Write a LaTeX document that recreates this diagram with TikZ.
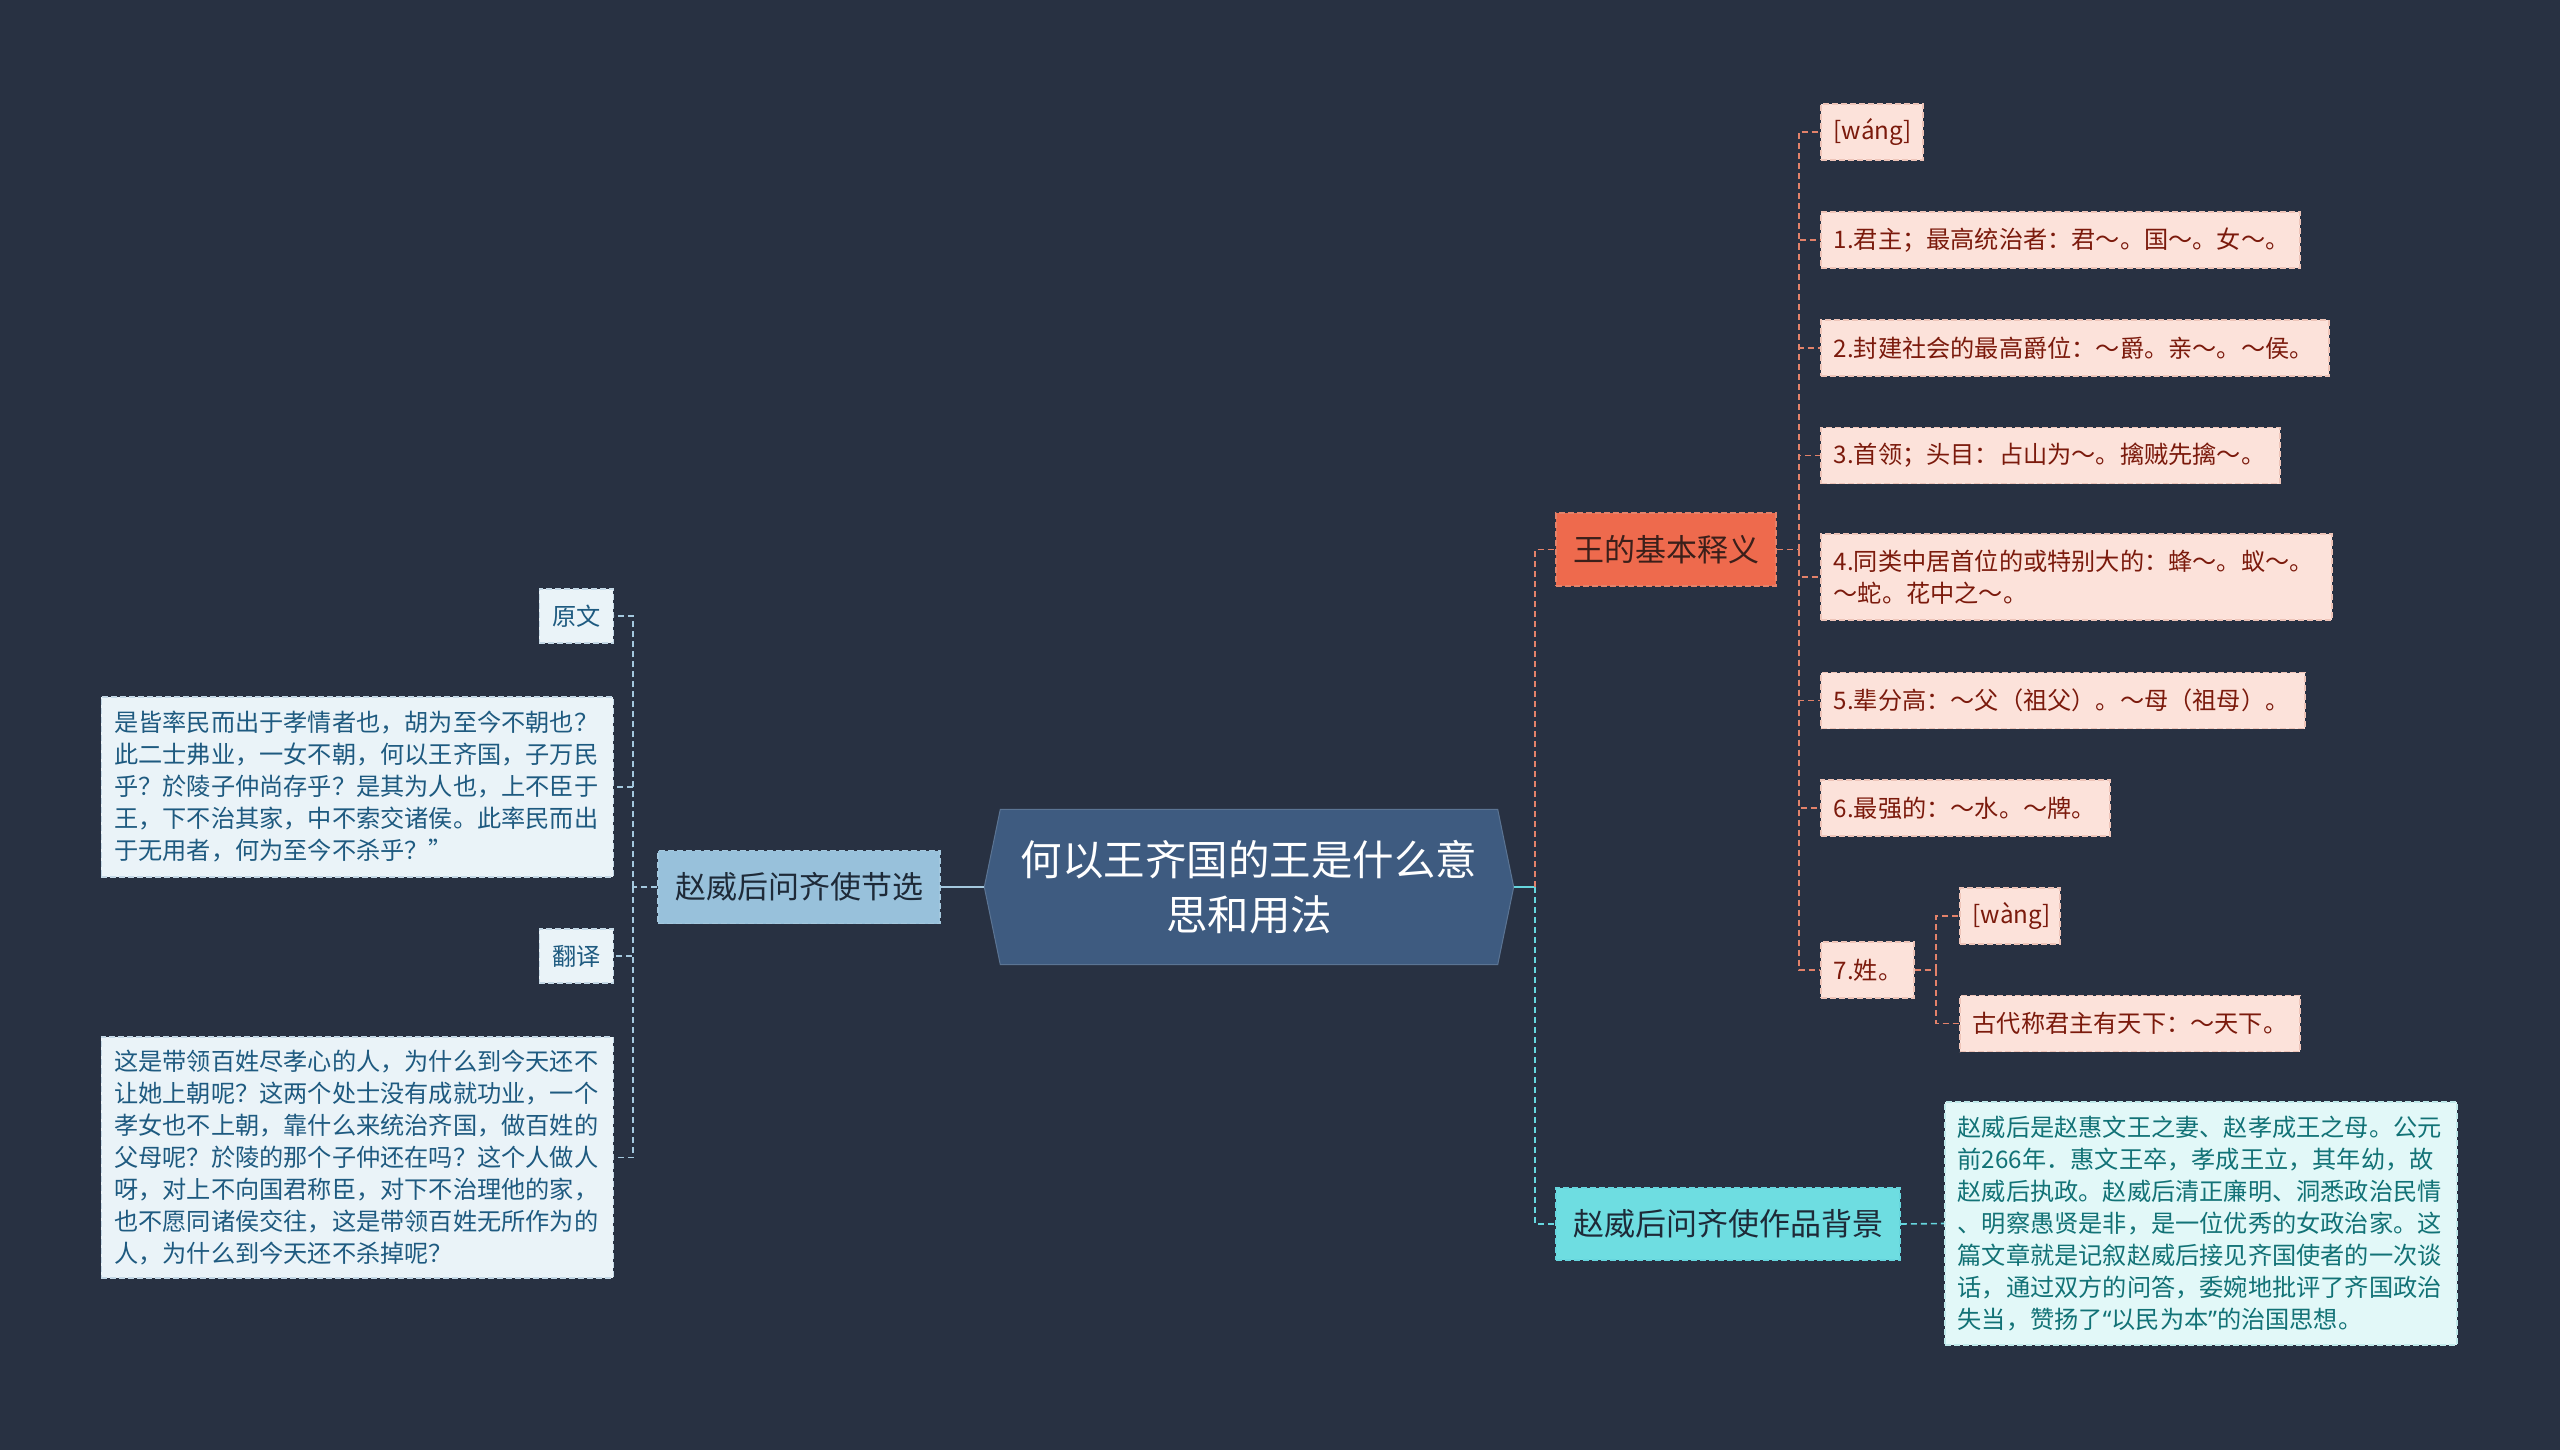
\documentclass[tikz,border=0pt]{standalone}
\usepackage{fontspec}
\setmainfont{Noto Sans CJK SC}
\newfontfamily\latf{Noto Sans}
\usetikzlibrary{backgrounds}
\definecolor{bgc}{HTML}{283142}
\definecolor{rootfill}{HTML}{3E5B80}
\definecolor{jxfill}{HTML}{98C1DB}
\definecolor{darktext}{HTML}{1E2A38}
\definecolor{lbfill}{HTML}{EAF3F8}
\definecolor{lbtext}{HTML}{1E5A80}
\definecolor{lbline}{HTML}{C4D8E6}
\definecolor{jbfill}{HTML}{EE6A4D}
\definecolor{jbtext}{HTML}{3B1F1A}
\definecolor{pkfill}{HTML}{FCE2DA}
\definecolor{pktext}{HTML}{7B1A0C}
\definecolor{pkline}{HTML}{EEC4B8}
\definecolor{bjfill}{HTML}{6EDDE1}
\definecolor{lcfill}{HTML}{E2F8F8}
\definecolor{lctext}{HTML}{127276}
\definecolor{lcline}{HTML}{BFE9EA}
\definecolor{orl}{HTML}{E3826A}
\definecolor{cyl}{HTML}{66D6DE}
\definecolor{bll}{HTML}{A4C8DE}
\tikzset{
  boxbase/.style={rectangle, line width=1.5pt, dash pattern=on 6pt off 3pt, inner xsep=13pt, inner ysep=0pt, align=left},
  smallfont/.style={font=\fontsize{24.2pt}{32pt}\selectfont},
  branchfont/.style={font=\fontsize{31pt}{38pt}\selectfont},
  pinkbox/.style={boxbase, smallfont, fill=pkfill, draw=pkline, text=pktext, anchor=west, minimum height=56pt},
  lbbox/.style={boxbase, smallfont, fill=lbfill, draw=lbline, text=lbtext, anchor=east},
  lcbox/.style={boxbase, smallfont, fill=lcfill, draw=lcline, text=lctext, anchor=west},
  branchbox/.style={boxbase, branchfont, align=center, text=darktext},
  orline/.style={draw=orl, line width=1.6pt, dash pattern=on 6pt off 4pt},
  cyline/.style={draw=cyl, line width=1.6pt, dash pattern=on 6pt off 4pt},
  blline/.style={draw=bll, line width=1.6pt, dash pattern=on 6pt off 4pt},
}
\begin{document}
\begin{tikzpicture}[x=1pt,y=-1pt]
\useasboundingbox (0,0) rectangle (2560,1450);

% root
\node[font=\fontsize{41.5pt}{55pt}\selectfont, text=white, align=center, minimum width=529pt, minimum height=155pt, inner sep=0pt] (root) at (1249,887) {何以王齐国的王是什么意\\思和用法};

% left branch
\node[branchbox, fill=jxfill, draw=bll, minimum width=282pt, minimum height=73pt] (jx) at (799,887) {赵威后问齐使节选};
\node[lbbox, text width=48pt, minimum height=54pt] (yw) at (614,616) {原文};
\node[lbbox, text width=486pt, minimum height=180pt] (ywt) at (614,787) {是皆率民而出于孝情者也，胡为至今不朝也？\\此二士弗业，一女不朝，何以王齐国，子万民\\乎？於陵子仲尚存乎？是其为人也，上不臣于\\王，下不治其家，中不索交诸侯。此率民而出\\于无用者，何为至今不杀乎？”};
\node[lbbox, text width=48pt, minimum height=54pt] (fy) at (614,956) {翻译};
\node[lbbox, text width=486pt, minimum height=241pt] (fyt) at (614,1157.5) {这是带领百姓尽孝心的人，为什么到今天还不\\让她上朝呢？这两个处士没有成就功业，一个\\孝女也不上朝，靠什么来统治齐国，做百姓的\\父母呢？於陵的那个子仲还在吗？这个人做人\\呀，对上不向国君称臣，对下不治理他的家，\\也不愿同诸侯交往，这是带领百姓无所作为的\\人，为什么到今天还不杀掉呢？};

% right upper branch
\node[branchbox, fill=jbfill, draw=orl, text=jbtext, minimum width=220pt, minimum height=73pt] (jb) at (1666,549.5) {王的基本释义};
\node[pinkbox, text width=76pt] (c0) at (1820,132) {[wáng]};
\node[pinkbox, text width=453pt] (c1) at (1820,240) {1.君主；最高统治者：君～。国～。女～。};
\node[pinkbox, text width=482pt] (c2) at (1820,348) {2.封建社会的最高爵位：～爵。亲～。～侯。};
\node[pinkbox, text width=433pt] (c3) at (1820,455.5) {3.首领；头目：占山为～。擒贼先擒～。};
\node[pinkbox, text width=485pt, minimum height=86pt] (c4) at (1820,577) {4.同类中居首位的或特别大的：蜂～。蚁～。\\～蛇。花中之～。};
\node[pinkbox, text width=458pt] (c5) at (1820,700.5) {5.辈分高：～父（祖父）。～母（祖母）。};
\node[pinkbox, text width=263pt] (c6) at (1820,808) {6.最强的：～水。～牌。};
\node[pinkbox, text width=67pt] (c7) at (1820,970) {7.姓。};
\node[pinkbox, text width=74pt] (c7a) at (1959,916) {[wàng]};
\node[pinkbox, text width=314pt] (c7b) at (1959,1023.5) {古代称君主有天下：～天下。};

% right lower branch
\node[branchbox, fill=bjfill, draw=cyl, minimum width=344pt, minimum height=72pt] (bj) at (1728,1224) {赵威后问齐使作品背景};
\node[lcbox, text width=486pt, minimum height=243pt] (bjt) at (1944,1223.5) {赵威后是赵惠文王之妻、赵孝成王之母。公元\\前266年．惠文王卒，孝成王立，其年幼，故\\赵威后执政。赵威后清正廉明、洞悉政治民情\\、明察愚贤是非，是一位优秀的女政治家。这\\篇文章就是记叙赵威后接见齐国使者的一次谈\\话，通过双方的问答，委婉地批评了齐国政治\\失当，赞扬了{\latf “}以民为本{\latf ”}的治国思想。};

% connectors right
\coordinate (rt) at (1535,887);
\draw[draw=cyl, line width=2.5pt] (root.east) -- (rt);
\draw[orline] (rt) |- (jb.west);
\draw[cyline] (rt) |- (bj.west);
\coordinate (t1) at (1799,549.5);
\draw[orline] (jb.east) -- (t1);
\foreach \c in {c0,c1,c2,c3,c4,c5,c6,c7} \draw[orline] (t1) |- (\c.west);
\coordinate (t2) at (1936,970);
\draw[orline] (c7.east) -- (t2);
\draw[orline] (t2) |- (c7a.west);
\draw[orline] (t2) |- (c7b.west);
\draw[cyline] (bj.east) -- (bjt.west);

% connectors left
\draw[draw=bll, line width=2.5pt] (root.west) -- (jx.east);
\coordinate (t3) at (633,887);
\draw[blline] (jx.west) -- (t3);
\foreach \c in {yw,ywt,fy,fyt} \draw[blline] (t3) |- (\c.east);

\begin{scope}[on background layer]
\fill[bgc] (0,0) rectangle (2560,1450);
\fill[rootfill, draw=rootfill!85!white, line width=1pt] ([xshift=16pt]root.north west) -- ([xshift=-16pt]root.north east) -- (root.east) -- ([xshift=-16pt]root.south east) -- ([xshift=16pt]root.south west) -- (root.west) -- cycle;
\end{scope}
\end{tikzpicture}
\end{document}
